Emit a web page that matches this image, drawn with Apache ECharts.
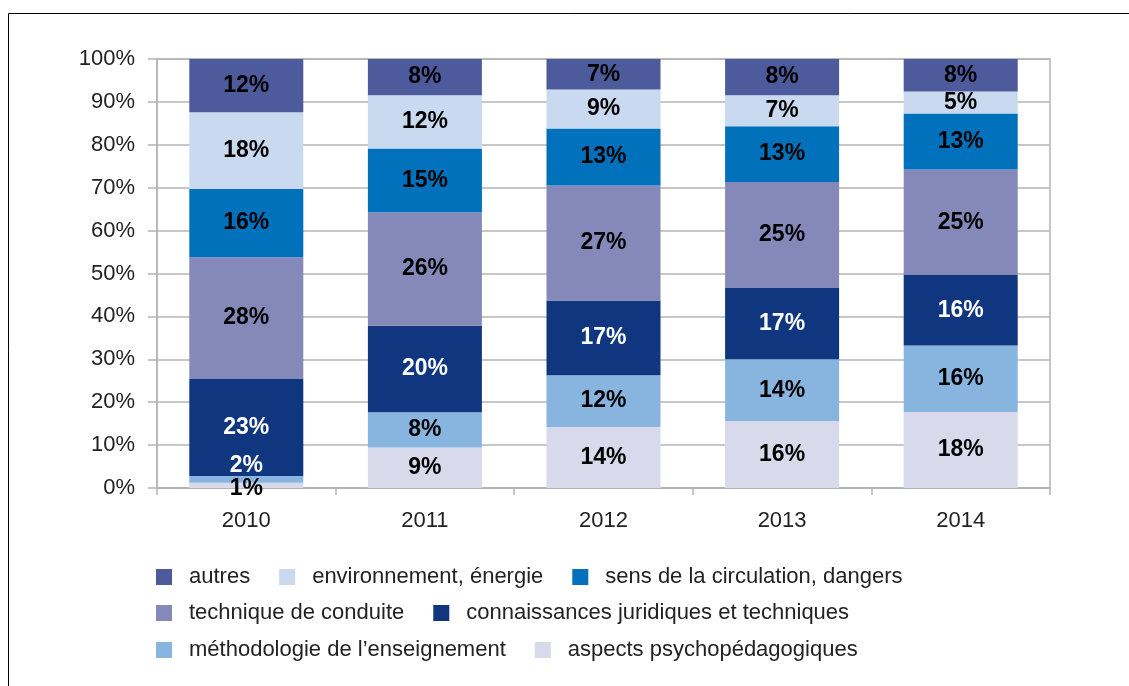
<!DOCTYPE html>
<html>
<head>
<meta charset="utf-8">
<script src="https://cdn.jsdelivr.net/npm/echarts@6/dist/echarts.min.js"></script>
<style>
html,body{margin:0;padding:0;background:#fff;}
#chart{width:1129px;height:686px;}
</style>
</head>
<body>
<div id="chart"></div>
<script>
// ---- data ----
const years = ['2010', '2011', '2012', '2013', '2014'];
const yTicks = [0, 10, 20, 30, 40, 50, 60, 70, 80, 90, 100];
// stacked from bottom to top
const aspects        = [1.2, 9.45, 14.2, 15.6, 17.7];
const methodologie   = [1.6, 8.2, 12.1, 14.4, 15.5];
const connaissances  = [22.6, 20.15, 17.4, 16.6, 16.45];
const technique      = [28.4, 26.45, 26.8, 24.7, 24.6];
const sens           = [15.9, 14.9, 13.3, 13.05, 13.05];
const environnement  = [17.9, 12.4, 9.1, 7.2, 5.1];
const autres         = [12.4, 8.45, 7.1, 8.45, 7.6];

const names = {
  autres: 'autres',
  env: 'environnement, énergie',
  sens: 'sens de la circulation, dangers',
  tech: 'technique de conduite',
  conn: 'connaissances juridiques et techniques',
  meth: 'méthodologie de l\u2019enseignement',
  asp: 'aspects psychopédagogiques'
};

const FONT = "'Liberation Sans', Arial, Helvetica, sans-serif";

function mkSeries(name, values, color, labelColor, special) {
  return {
    name: name,
    type: 'bar',
    stack: 'total',
    barWidth: 114,
    itemStyle: { color: color },
    label: {
      show: true,
      position: 'inside',
      color: labelColor,
      fontFamily: FONT,
      fontWeight: 'bold',
      fontSize: 23,
      formatter: p => Math.round(p.value) + '%'
    },
    data: values.map((v, i) => (special && special[i]) ? { value: v, label: special[i] } : v)
  };
}

const series = [
  mkSeries(names.asp, aspects, '#D8D9EB', '#000', [{ offset: [0, 3] }]),
  mkSeries(names.meth, methodologie, '#88B4E0', '#000', [{ color: '#fff', offset: [0, -14] }]),
  mkSeries(names.conn, connaissances, '#0F367E', '#fff'),
  mkSeries(names.tech, technique, '#8489BA', '#000'),
  mkSeries(names.sens, sens, '#0071BA', '#000'),
  mkSeries(names.env, environnement, '#C9D9F0', '#000'),
  mkSeries(names.autres, autres, '#4D5A9C', '#000')
];

function mkLegend(data, top) {
  return {
    data: data,
    left: 156,
    top: top,
    padding: 0,
    orient: 'horizontal',
    icon: 'rect',
    itemWidth: 16,
    itemHeight: 16,
    itemGap: 29,
    selectedMode: false,
    textStyle: {
      fontFamily: FONT,
      fontSize: 22,
      lineHeight: 22,
      color: '#222',
      padding: [0, 0, 0, 12]
    }
  };
}

const chart = echarts.init(document.getElementById('chart'), null, { renderer: 'canvas' });
chart.setOption({
  animation: false,
  backgroundColor: '#fff',
  graphic: [{
    type: 'rect',
    shape: { x: 8.5, y: 13.5, width: 1300, height: 900 },
    style: { fill: 'none', stroke: '#000', lineWidth: 1 },
    silent: true
  }],
  grid: {
    left: 157, right: 79, top: 59, bottom: 198,
    show: true, borderColor: '#b4b4b4', borderWidth: 1.5, backgroundColor: 'transparent'
  },
  legend: [
    mkLegend([names.autres, names.env, names.sens], 566),
    mkLegend([names.tech, names.conn], 602),
    mkLegend([names.meth, names.asp], 639)
  ],
  xAxis: {
    type: 'category',
    data: years,
    axisLine: { show: true, lineStyle: { color: '#b4b4b4', width: 1.5 } },
    axisTick: { show: true, length: 7, lineStyle: { color: '#b4b4b4', width: 1.5 } },
    axisLabel: { fontFamily: FONT, fontSize: 22, color: '#222', margin: 22 }
  },
  yAxis: {
    type: 'value',
    min: yTicks[0],
    max: yTicks[yTicks.length - 1],
    interval: 10,
    axisLine: { show: true, lineStyle: { color: '#b4b4b4', width: 1.5 } },
    axisTick: { show: true, length: 9, lineStyle: { color: '#b4b4b4', width: 1.5 } },
    splitLine: { show: true, lineStyle: { color: '#b4b4b4', width: 1.5 } },
    axisLabel: { fontFamily: FONT, fontSize: 22, color: '#222', margin: 22, formatter: '{value}%' }
  },
  series: series
});
</script>
</body>
</html>
